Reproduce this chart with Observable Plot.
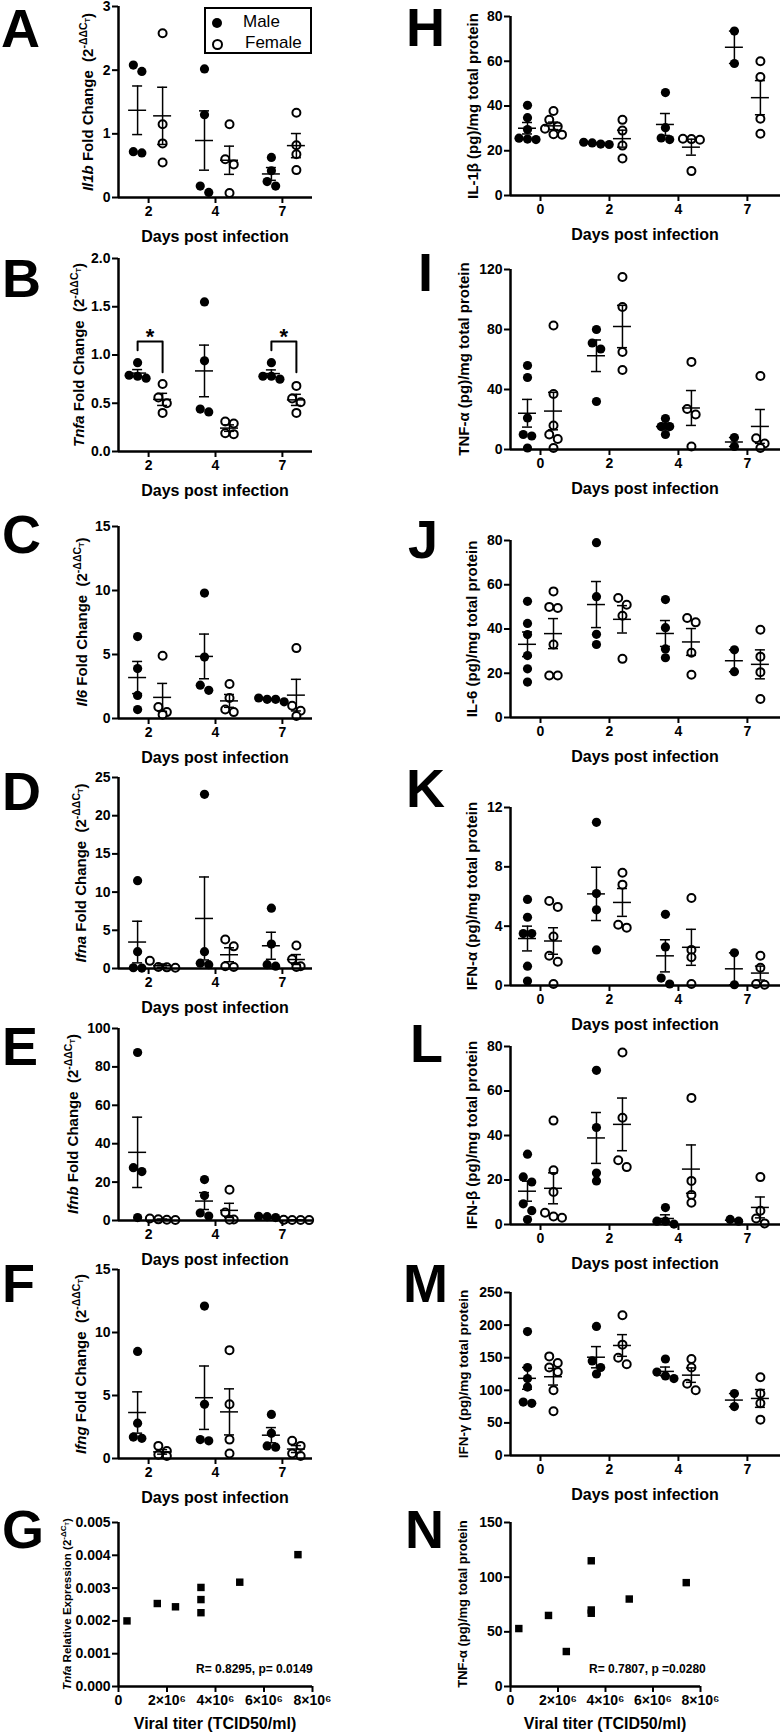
<!DOCTYPE html>
<html><head><meta charset="utf-8">
<script src="https://cdn.jsdelivr.net/npm/d3@7"></script>
<script src="https://cdn.jsdelivr.net/npm/@observablehq/plot@0.6"></script>
<style>
html,body{margin:0;padding:0;background:#fff;}
body{width:780px;height:1735px;position:relative;overflow:hidden;font-family:"Liberation Sans",Arial,Helvetica,sans-serif;color:#000;}
.abs{position:absolute;}
.letter{position:absolute;font-weight:bold;font-size:54px;line-height:40px;}
.ylab{position:absolute;font-weight:bold;font-size:15px;white-space:nowrap;transform:translate(-50%,-50%) rotate(-90deg);}
.xlab{position:absolute;font-weight:bold;font-size:16px;white-space:nowrap;transform:translate(-50%,-50%);}
.rtxt{position:absolute;font-weight:bold;font-size:12px;white-space:nowrap;}
sup{font-size:70%;}
sub{font-size:70%;}
svg{overflow:visible;}
</style></head>
<body>
<script>
// ---------------- DATA ----------------
const daysQ = ["2", "4", "7"];
const daysE = ["0", "2", "4", "7"];

// qPCR fold change (left column)
const il1bMale   = [[1.98, 2.08, 0.70, 0.72], [2.02, 1.30, 0.18, 0.08], [0.63, 0.42, 0.25, 0.18]];
const il1bFemale = [[2.58, 1.15, 0.85, 0.55], [1.15, 0.60, 0.52, 0.07], [1.33, 0.82, 0.68, 0.43]];
const tnfaMale   = [[0.92, 0.78, 0.76, 0.79], [1.55, 0.94, 0.44, 0.41], [0.92, 0.78, 0.75, 0.78]];
const tnfaFemale = [[0.70, 0.56, 0.50, 0.40], [0.31, 0.29, 0.19, 0.18], [0.68, 0.55, 0.51, 0.40]];
const il6Male    = [[6.4, 3.9, 1.8, 0.7], [9.8, 4.8, 2.6, 2.2], [1.6, 1.5, 1.5, 1.3]];
const il6Female  = [[4.9, 0.9, 0.5, 0.3], [2.7, 1.6, 0.7, 0.5], [5.5, 1.0, 0.6, 0.2]];
const ifnaMale   = [[11.5, 2.2, 0.1, 0.05], [22.8, 2.2, 0.7, 0.5], [7.9, 3.2, 0.5, 0.3]];
const ifnaFemale = [[1.0, 0.2, 0.1, 0.15], [3.8, 2.9, 0.3, 0.2], [3.0, 1.2, 0.3, 0.2]];
const ifnbMale   = [[87.5, 27.5, 25.5, 1.5], [21.3, 13, 3.9, 2.3], [2.2, 2.0, 1.5, 0.3]];
const ifnbFemale = [[1.0, 0.6, 0.4, 0.3], [16, 4.2, 0.5, 0.4], [0.4, 0.3, 0.3, 0.2]];
const ifngMale   = [[8.5, 2.8, 1.7, 1.6], [12.1, 4.3, 1.5, 1.4], [3.5, 2.0, 1.0, 0.9]];
const ifngFemale = [[1.0, 0.6, 0.3, 0.2], [8.6, 4.3, 1.5, 0.4], [1.4, 1.0, 0.4, 0.2]];
// significance brackets in B (day index; bracket top, male leg end, female leg end)
const tnfaSigDays = [0, 2];
const tnfaSigLevels = [1.14, 1.05, 0.82];
const tnfaStarLevel = 1.25;

// protein ELISA (right column), pg/mg total protein
const pIl1bMale   = [[40.3, 34.8, 29.5, 25.6, 25.2, 25.0], [23.8, 23.5, 23.0, 22.8], [46, 30.3, 25.7, 25], [73.5, 59]];
const pIl1bFemale = [[37.8, 33.8, 30.8, 29.8, 27.2, 27.4], [33.8, 29, 22.3, 16.5], [25.4, 25.2, 24.9, 10.9], [60, 53, 34.3, 27.6]];
const pTnfaMale   = [[56, 48, 21, 10, 9, 1], [80, 71, 67, 32], [20.6, 15.3, 15.3, 10], [8, 2]];
const pTnfaFemale = [[82.7, 37, 16, 10, 7, 1], [115, 95, 65, 53], [58.4, 27, 23.3, 2], [49, 7.5, 4, 1]];
const pIl6Male    = [[52.5, 42.5, 37.5, 28, 22, 16], [79, 54.6, 37.6, 33], [53.3, 40.6, 31, 27], [30.6, 20.7]];
const pIl6Female  = [[57, 50, 49.5, 33, 19, 19], [54, 51, 46, 26.5], [45, 43, 29.3, 19.3], [39.7, 27.5, 20.5, 8.4]];
const pIfnaMale   = [[5.8, 4.6, 3.5, 3.5, 1.3, 0.3], [11, 6.2, 5.1, 2.4], [4.8, 2.6, 0.5, 0.1], [2.2, 0.05]];
const pIfnaFemale = [[5.7, 5.3, 3.3, 2.0, 1.6, 0.1], [7.6, 6.8, 4.1, 3.9], [5.9, 2.4, 1.9, 0.1], [2.0, 1.2, 0.1, 0.05]];
const pIfnbMale   = [[31.6, 21.4, 19.1, 9.3, 6.2, 2.2], [69.3, 43.6, 23.1, 19.6], [7.6, 1.5, 1.5, 0.2], [1.5, 2.3]];
const pIfnbFemale = [[46.7, 24.4, 14.6, 5.3, 3.6, 3.0], [77.3, 48, 28.9, 25.8], [56.9, 19.6, 13.3, 9.8], [21.3, 6.2, 2.7, 0.5]];
const pIfngMale   = [[190, 135, 118, 105, 82, 80], [198, 145, 135, 125], [148, 128, 122, 118], [95, 75]];
const pIfngFemale = [[152, 142, 135, 128, 100, 68], [215, 170, 150, 140], [148, 135, 110, 100], [120, 95, 80, 55]];

// correlation with viral titer
const viralTiter = [0.35e6, 1.6e6, 2.35e6, 3.4e6, 3.4e6, 3.4e6, 5.0e6, 7.4e6];
const tnfaRelExpr = [0.00200, 0.00253, 0.00243, 0.00302, 0.00265, 0.00225, 0.00318, 0.00402];
const tnfaProtein = [53, 65, 32, 115, 70, 67, 80, 95];
const corrG = "R= 0.8295, p= 0.0149";
const corrN = "R= 0.7807, p =0.0280";

// ---------------- HELPERS ----------------
const FONT = "'Liberation Sans', Arial, Helvetica, sans-serif";
function addHTML(html) { document.body.insertAdjacentHTML("beforeend", html); }
function place(svg, left, top) {
  svg.style.position = "absolute"; svg.style.left = left + "px"; svg.style.top = top + "px";
  document.body.appendChild(svg);
}
function layoutGroup(vals, ymax, plotH) {
  const d = 9, spacing = 8.5;
  const pts = vals.map(v => ({v, py: v / ymax * plotH})).sort((a, b) => b.py - a.py);
  const rows = [];
  for (const p of pts) {
    const row = rows[rows.length - 1];
    if (row && Math.abs(row[0].py - p.py) < d * 0.8) row.push(p); else rows.push([p]);
  }
  for (const row of rows) row.forEach((p, k) => p.off = (k - (row.length - 1) / 2) * spacing);
  return pts;
}
function letter(ch, lx, lb) {
  addHTML(`<div class="letter" style="left:${lx}px;top:${lb - 39}px">${ch}</div>`);
}

function dotPanel(p) {
  const L = p.side === "L";
  const W = 390, ml = L ? 118 : 120, mr = L ? 78 : 0;
  const xdom = L ? [-0.45, 2.45] : [-0.435, 3.48];
  const MT = 12, MB = 30;
  const plotH = p.zero - p.top;
  const H = plotH + MT + MB;
  const pxu = (W - ml - mr) / (xdom[1] - xdom[0]);
  const sexOff = L ? {m: -11, f: 14} : {m: -13, f: 13};
  const pts = [], stats = [];
  p.days.forEach((day, i) => {
    [["m", p.male[i]], ["f", p.female[i]]].forEach(([s, vals]) => {
      const xc = i + sexOff[s] / pxu;
      layoutGroup(vals, p.ymax, plotH).forEach(q => pts.push({x: xc + q.off / pxu, y: q.v, s}));
      const mean = d3.mean(vals);
      const sem = vals.length > 1 ? d3.deviation(vals) / Math.sqrt(vals.length) : 0;
      stats.push({xc, mean, lo: Math.max(0, mean - sem), hi: mean + sem, s, i});
    });
  });
  const mh = 9 / pxu, ch = 5 / pxu;
  const marks = [
    Plot.dot(pts.filter(d => d.s === "m"), {x: "x", y: "y", r: 4.6, fill: "black", stroke: "none"}),
    Plot.dot(pts.filter(d => d.s === "f"), {x: "x", y: "y", r: 4, fill: "white", stroke: "black", strokeWidth: 2}),
    Plot.ruleX(stats, {x: "xc", y1: "lo", y2: "hi", strokeWidth: 1.5}),
    Plot.ruleY(stats, {y: "hi", x1: d => d.xc - ch, x2: d => d.xc + ch, strokeWidth: 1.5}),
    Plot.ruleY(stats, {y: "lo", x1: d => d.xc - ch, x2: d => d.xc + ch, strokeWidth: 1.5}),
    Plot.ruleY(stats, {y: "mean", x1: d => d.xc - mh, x2: d => d.xc + mh, strokeWidth: 1.5}),
    Plot.ruleY([0], {strokeWidth: 2.5}),
    Plot.ruleX([xdom[0]], {strokeWidth: 2.5}),
    Plot.axisY({ticks: p.ticks, tickFormat: p.fmt || (d => d), tickSize: 6, tickPadding: 2, strokeWidth: 2, label: null}),
    Plot.axisX({ticks: d3.range(p.days.length), tickFormat: i => p.days[i], tickSize: 6, tickPadding: 3, strokeWidth: 2, label: null})
  ];
  if (p.sig) {
    const [topV, mV, fV] = p.sig.levels;
    const br = p.sig.days.map(i => [
      {x: i + sexOff.m / pxu, y: mV, i}, {x: i + sexOff.m / pxu, y: topV, i},
      {x: i + sexOff.f / pxu, y: topV, i}, {x: i + sexOff.f / pxu, y: fV, i}
    ]).flat();
    marks.push(Plot.line(br, {x: "x", y: "y", z: "i", stroke: "black", strokeWidth: 2}));
    marks.push(Plot.text(p.sig.days, {x: i => i + (sexOff.m + sexOff.f) / 2 / pxu, y: () => p.sig.star, text: () => "*", fontSize: 22, fontWeight: "bold", dy: 6}));
  }
  const svg = Plot.plot({
    width: W, height: H, marginLeft: ml, marginRight: mr, marginTop: MT, marginBottom: MB,
    x: {domain: xdom, label: null},
    y: {domain: [0, p.ymax], label: null},
    style: {fontFamily: FONT, fontSize: "14px", fontWeight: "bold", color: "black", background: "transparent", overflow: "visible"},
    marks
  });
  place(svg, L ? 0 : 390, p.top - MT);
  const cy = (p.top + p.zero) / 2;
  letter(p.letter, p.lx, p.lb);
  addHTML(`<div class="ylab" style="left:${p.labX}px;top:${cy}px;font-size:${p.labFs || 15}px">${p.ylabel}</div>`);
  addHTML(`<div class="xlab" style="left:${L ? 215 : 645}px;top:${p.zero + 40}px">Days post infection</div>`);
}

function scatterPanel(p) {
  const L = p.side === "L";
  const W = 390, ml = L ? 118 : 120, mr = p.mr;
  const MT = 12, MB = 30;
  const plotH = p.zero - p.top;
  const H = plotH + MT + MB;
  const data = viralTiter.map((x, i) => ({x, y: p.values[i]}));
  const svg = Plot.plot({
    width: W, height: H, marginLeft: ml, marginRight: mr, marginTop: MT, marginBottom: MB,
    x: {domain: [0, 8e6], label: null},
    y: {domain: [0, p.ymax], label: null},
    style: {fontFamily: FONT, fontSize: "14px", fontWeight: "bold", color: "black", background: "transparent", overflow: "visible"},
    marks: [
      Plot.dot(data, {x: "x", y: "y", symbol: "square", r: 4.2, fill: "black", stroke: "none"}),
      Plot.ruleY([0], {strokeWidth: 2.5}),
      Plot.ruleX([0], {strokeWidth: 2.5}),
      Plot.axisY({ticks: p.ticks, tickFormat: p.fmt, tickSize: 6, tickPadding: 2, strokeWidth: 2, label: null}),
      Plot.axisX({ticks: [0, 2e6, 4e6, 6e6, 8e6], tickFormat: v => v === 0 ? "0" : `${v / 1e6}×10⁶`, tickSize: 6, tickPadding: 3, strokeWidth: 2, label: null})
    ]
  });
  place(svg, L ? 0 : 390, p.top - MT);
  const cy = (p.top + p.zero) / 2;
  letter(p.letter, p.lx, p.lb);
  addHTML(`<div class="ylab" style="left:${p.labX}px;top:${cy}px;font-size:${p.labFs || 15}px">${p.ylabel}</div>`);
  addHTML(`<div class="xlab" style="left:${p.titleX}px;top:${p.zero + 38}px">Viral titer (TCID50/ml)</div>`);
  addHTML(`<div class="rtxt" style="left:${p.rx}px;top:${p.zero - 24}px">${p.rtext}</div>`);
}

const foldLab = g => `<i>${g}</i> Fold Change&nbsp;&nbsp;(2<sup>-ΔΔC<sub>T</sub></sup>)`;

// ---------------- LEFT COLUMN ----------------
dotPanel({side: "L", letter: "A", lx: 1, lb: 47, days: daysQ, male: il1bMale, female: il1bFemale, ymax: 3, ticks: [0, 1, 2, 3], top: 6, zero: 197, labX: 86, ylabel: foldLab("Il1b")});
dotPanel({side: "L", letter: "B", lx: 2, lb: 297, days: daysQ, male: tnfaMale, female: tnfaFemale, ymax: 2, ticks: [0, 0.5, 1, 1.5, 2], fmt: d3.format(".1f"), top: 258, zero: 451, labX: 77, ylabel: foldLab("Tnfa"),
  sig: {days: tnfaSigDays, levels: tnfaSigLevels, star: tnfaStarLevel}});
dotPanel({side: "L", letter: "C", lx: 2, lb: 553, days: daysQ, male: il6Male, female: il6Female, ymax: 15, ticks: [0, 5, 10, 15], top: 526, zero: 718, labX: 80, ylabel: foldLab("Il6")});
dotPanel({side: "L", letter: "D", lx: 2, lb: 810, days: daysQ, male: ifnaMale, female: ifnaFemale, ymax: 25, ticks: [0, 5, 10, 15, 20, 25], top: 777, zero: 968, labX: 79, ylabel: foldLab("Ifna")});
dotPanel({side: "L", letter: "E", lx: 2, lb: 1065, days: daysQ, male: ifnbMale, female: ifnbFemale, ymax: 100, ticks: [0, 20, 40, 60, 80, 100], top: 1028, zero: 1220, labX: 71, ylabel: foldLab("Ifnb")});
dotPanel({side: "L", letter: "F", lx: 2, lb: 1302, days: daysQ, male: ifngMale, female: ifngFemale, ymax: 15, ticks: [0, 5, 10, 15], top: 1269, zero: 1458, labX: 79, ylabel: foldLab("Ifng")});
scatterPanel({side: "L", letter: "G", lx: 2, lb: 1548, values: tnfaRelExpr, ymax: 0.005, ticks: [0, 0.001, 0.002, 0.003, 0.004, 0.005], fmt: d3.format(".3f"), top: 1522, zero: 1686, mr: 78, labX: 66, labFs: 11.5,
  ylabel: `<i>Tnfa</i> Relative Expression (2<sup>-ΔC<sub>T</sub></sup>)`, titleX: 215, rx: 196, rtext: corrG});

// ---------------- RIGHT COLUMN ----------------
dotPanel({side: "R", letter: "H", lx: 406, lb: 46, days: daysE, male: pIl1bMale, female: pIl1bFemale, ymax: 80, ticks: [0, 20, 40, 60, 80], top: 16, zero: 195, labX: 472, ylabel: "IL-1β (pg)/mg total protein"});
dotPanel({side: "R", letter: "I", lx: 418, lb: 291, days: daysE, male: pTnfaMale, female: pTnfaFemale, ymax: 120, ticks: [0, 40, 80, 120], top: 269, zero: 449, labX: 463, ylabel: "TNF-α (pg)/mg total protein"});
dotPanel({side: "R", letter: "J", lx: 408, lb: 558, days: daysE, male: pIl6Male, female: pIl6Female, ymax: 80, ticks: [0, 20, 40, 60, 80], top: 540, zero: 717, labX: 471, ylabel: "IL-6 (pg)/mg total protein"});
dotPanel({side: "R", letter: "K", lx: 406, lb: 807, days: daysE, male: pIfnaMale, female: pIfnaFemale, ymax: 12, ticks: [0, 4, 8, 12], top: 807, zero: 985, labX: 471, ylabel: "IFN-α (pg)/mg total protein"});
dotPanel({side: "R", letter: "L", lx: 410, lb: 1062, days: daysE, male: pIfnbMale, female: pIfnbFemale, ymax: 80, ticks: [0, 20, 40, 60, 80], top: 1046, zero: 1224, labX: 471, ylabel: "IFN-β (pg)/mg total protein"});
dotPanel({side: "R", letter: "M", lx: 403, lb: 1302, days: daysE, male: pIfngMale, female: pIfngFemale, ymax: 250, ticks: [0, 50, 100, 150, 200, 250], top: 1292, zero: 1455, labX: 463, labFs: 13.5, ylabel: "IFN-γ (pg)/mg total protein"});
scatterPanel({side: "R", letter: "N", lx: 405, lb: 1548, values: tnfaProtein, ymax: 150, ticks: [0, 50, 100, 150], fmt: d => d, top: 1522, zero: 1686, mr: 80, labX: 462, labFs: 13,
  ylabel: "TNF-α (pg)/mg total protein", titleX: 605, rx: 589, rtext: corrN});

// legend in A
addHTML(`<div class="abs" style="left:204px;top:7px;width:104px;height:43px;border:2.5px solid #000;font-size:17px;">
  <div class="abs" style="left:6px;top:9px;width:10px;height:10px;border-radius:50%;background:#000"></div>
  <div class="abs" style="left:37px;top:3px;line-height:20px">Male</div>
  <div class="abs" style="left:6px;top:30px;width:7px;height:7px;border-radius:50%;border:2px solid #000;background:#fff"></div>
  <div class="abs" style="left:39px;top:24px;line-height:20px">Female</div>
</div>`);
</script>
</body></html>
